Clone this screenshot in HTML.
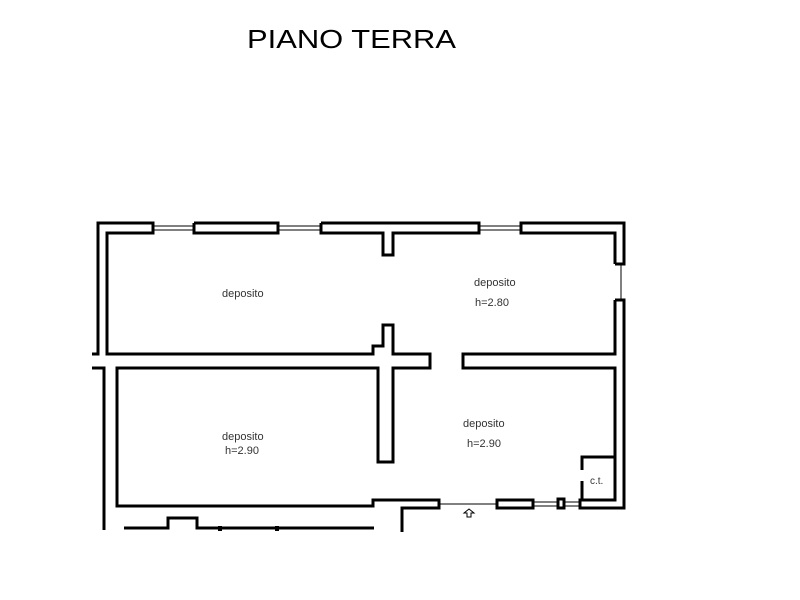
<!DOCTYPE html>
<html><head><style>body{margin:0;background:#fff}svg{display:block}</style></head><body>
<svg width="800" height="600" viewBox="0 0 800 600" xmlns="http://www.w3.org/2000/svg">
<rect width="800" height="600" fill="#fff"/>
<text x="247" y="48" font-family="Liberation Sans, sans-serif" font-size="26" fill="#000" textLength="209" lengthAdjust="spacingAndGlyphs">PIANO TERRA</text>
<g fill="none" stroke="#000" stroke-width="3" stroke-linejoin="miter">
<polyline points="92,354 98,354 98,223 153,223 153,233 107,233 107,354 373,354 373,346 383,346 383,325 393,325 393,354 430,354 430,368 393,368 393,462 378,462 378,368 117,368 117,506 373,506 373,500 439,500 439,508 402,508 402,532"/>
<polyline points="194,223 278,223 278,233 194,233 194,223"/>
<polyline points="321,223 479,223 479,233 393,233 393,255 383,255 383,233 321,233 321,223"/>
<polyline points="615,300 624,300 624,508 580,508 580,500 615,500 615,368 463,368 463,354 615,354 615,300"/>
<polyline points="615,264 615,233 521,233 521,223 624,223 624,264 615,264"/>
<polyline points="92,368 104,368 104,530"/>
<polyline points="124,528 168,528 168,518 197,518 197,528 374,528"/>
<rect x="497" y="500" width="36" height="8"/>
<rect x="558" y="499" width="6" height="9"/>
<polyline points="582,470 582,457 615,457"/>
<line x1="582" y1="481" x2="582" y2="500"/>
</g>
<g stroke="#000" stroke-width="1" fill="none">
<line x1="153" y1="226" x2="194" y2="226"/><line x1="153" y1="230" x2="194" y2="230"/>
<line x1="278" y1="226" x2="321" y2="226"/><line x1="278" y1="230" x2="321" y2="230"/>
<line x1="479" y1="226" x2="521" y2="226"/><line x1="479" y1="230" x2="521" y2="230"/>
<line x1="621" y1="264" x2="621" y2="300"/>
<line x1="439" y1="504" x2="497" y2="504"/>
<line x1="533" y1="502" x2="558" y2="502"/><line x1="533" y1="506" x2="558" y2="506"/>
<line x1="564" y1="502" x2="580" y2="502"/><line x1="564" y1="506" x2="580" y2="506"/>
<path d="M464,513 L469,509 L474,513 L471,513 L471,517 L467,517 L467,513 Z"/>
</g>
<g fill="#000"><rect x="218" y="526" width="4" height="5"/><rect x="275" y="526" width="4" height="5"/></g>
<g font-family="Liberation Sans, sans-serif" font-size="11" fill="#333">
<text x="222" y="297">deposito</text>
<text x="474" y="286">deposito</text>
<text x="475" y="306">h=2.80</text>
<text x="222" y="440">deposito</text>
<text x="225" y="454">h=2.90</text>
<text x="463" y="427">deposito</text>
<text x="467" y="447">h=2.90</text>
<text x="590" y="484" font-size="10">c.t.</text>
</g>
</svg>
</body></html>
